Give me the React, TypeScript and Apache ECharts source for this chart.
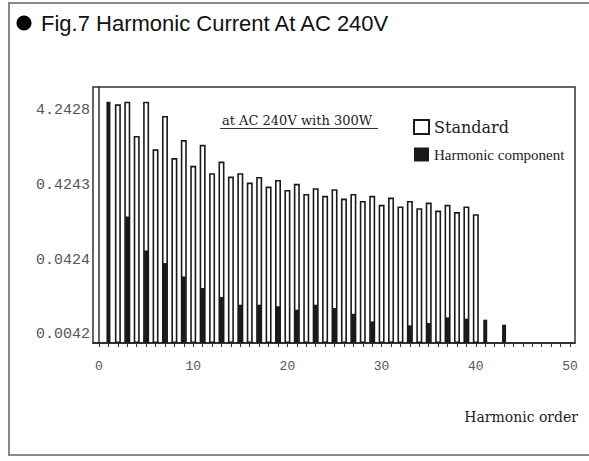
import React, { useEffect, useRef } from "react";
import * as echarts from "echarts";

// Harmonic orders (x axis)
const standardOrders = [2, 3, 4, 5, 6, 7, 8, 9, 10, 11, 12, 13, 14, 15, 16, 17, 18, 19, 20, 21, 22, 23, 24, 25, 26, 27, 28, 29, 30, 31, 32, 33, 34, 35, 36, 37, 38, 39, 40];
const standardValues = [5.22, 5.65, 1.96, 5.65, 1.3, 3.64, 0.99, 1.73, 0.78, 1.49, 0.62, 0.89, 0.56, 0.62, 0.465, 0.554, 0.411, 0.505, 0.371, 0.447, 0.328, 0.391, 0.309, 0.379, 0.284, 0.328, 0.264, 0.309, 0.234, 0.293, 0.222, 0.264, 0.211, 0.251, 0.196, 0.234, 0.187, 0.222, 0.175];

const harmonicOrders = [1, 3, 5, 7, 9, 11, 13, 15, 17, 19, 21, 23, 25, 27, 29, 31, 33, 35, 37, 39, 41, 43];
const harmonicValues = [5.65, 0.163, 0.0571, 0.0387, 0.0256, 0.0179, 0.0136, 0.0107, 0.0107, 0.0102, 0.00918, 0.0107, 0.00965, 0.0081, 0.00639, null, 0.00565, 0.00609, 0.00723, 0.00695, 0.00674, 0.00578];

const yTickValues = [0.0042428, 0.042428, 0.42428, 4.2428];
const xLabelValues = [0, 10, 20, 30, 40, 50];
const xTickValues = [0, 1, 2, 3, 4, 5, 6, 7, 8, 9, 10, 11, 12, 13, 14, 15, 16, 17, 18, 19, 20, 21, 22, 23, 24, 25, 26, 27, 28, 29, 30, 31, 32, 33, 34, 35, 36, 37, 38, 39, 40, 41, 42, 43, 44, 45, 46, 47, 48, 49, 50];

const TITLE = "Fig.7 Harmonic Current At AC 240V";
const NOTE = "at AC 240V with 300W";
const X_NAME = "Harmonic order";
const S1 = "Standard";
const S2 = "Harmonic component";

const Y_MIN = 0.00328;
const Y_MAX = 8.9;

export default function App() {
  const ref = useRef<HTMLDivElement>(null);
  useEffect(() => {
    if (!ref.current) return;
    const chart = echarts.init(ref.current, null, { renderer: "svg" });
    const xCommon = {
      type: "value",
      min: -0.64,
      max: 50.53,
      splitLine: { show: false },
    };
    chart.setOption({
      animation: false,
      backgroundColor: "#fff",
      grid: {
        left: 93,
        right: 14,
        top: 87,
        bottom: 118,
        show: true,
        borderColor: "#333",
        borderWidth: 1.5,
        backgroundColor: "transparent",
      },
      legend: {
        orient: "vertical",
        left: 408,
        top: 114,
        itemWidth: 15,
        itemHeight: 14,
        itemGap: 12,
        icon: "rect",
        selectedMode: false,
        data: [
          { name: S1, textStyle: { fontFamily: "DejaVu Serif", fontSize: 16, color: "#222" } },
          { name: S2, textStyle: { fontFamily: "Liberation Serif", fontSize: 15, color: "#222" } },
        ],
      },
      xAxis: [
        {
          ...xCommon,
          axisLine: { show: true, lineStyle: { color: "#222", width: 1.5 } },
          axisTick: { show: true, length: 4, customValues: xTickValues, lineStyle: { color: "#333", width: 1 } },
          axisLabel: {
            customValues: xLabelValues,
            margin: 17,
            fontFamily: "Liberation Mono",
            fontSize: 13,
            color: "#555",
          },
        },
        {
          ...xCommon,
          show: false,
        },
      ],
      yAxis: {
        type: "log",
        logBase: 10,
        min: Y_MIN,
        max: Y_MAX,
        startValue: Y_MIN,
        splitLine: { show: false },
        axisLine: { show: true, lineStyle: { color: "#333", width: 1.5 } },
        axisTick: { show: false },
        axisLabel: {
          customValues: yTickValues,
          margin: 3,
          fontFamily: "Liberation Mono",
          fontSize: 15,
          color: "#555",
          formatter: (v: number) => Number(v).toFixed(4),
        },
      },
      series: [
        {
          name: S1,
          type: "bar",
          xAxisIndex: 0,
          barWidth: 6,
          itemStyle: { color: "#fff", borderColor: "#1a1a1a", borderWidth: 1.6 },
          data: standardOrders.map((o, i) => [o, standardValues[i]]),
          z: 2,
        },
        {
          name: S2,
          type: "bar",
          xAxisIndex: 1,
          barWidth: 4,
          itemStyle: { color: "#1a1a1a" },
          data: harmonicOrders.map((o, i) => [o, harmonicValues[i]]),
          z: 3,
        },
      ],
      graphic: [
        {
          type: "rect",
          shape: { x: 9, y: 3, width: 600, height: 452 },
          style: { fill: "none", stroke: "#888", lineWidth: 2 },
          silent: true,
        },
        {
          type: "circle",
          shape: { cx: 24, cy: 23, r: 7.5 },
          style: { fill: "#000" },
        },
        {
          type: "text",
          x: 41,
          y: 23,
          style: {
            text: TITLE,
            fontFamily: "Liberation Sans",
            fontSize: 22,
            fill: "#111",
            verticalAlign: "middle",
          },
        },
        {
          type: "text",
          x: 222,
          y: 120,
          style: {
            text: NOTE,
            fontFamily: "DejaVu Serif",
            fontSize: 13,
            fill: "#222",
            verticalAlign: "middle",
          },
        },
        {
          type: "line",
          shape: { x1: 220, y1: 128.5, x2: 378, y2: 128.5 },
          style: { stroke: "#333", lineWidth: 1.2 },
        },
        {
          type: "text",
          x: 578,
          y: 417,
          style: {
            text: X_NAME,
            fontFamily: "DejaVu Serif",
            fontSize: 14,
            fill: "#222",
            align: "right",
            verticalAlign: "middle",
          },
        },
      ],
    });
    return () => chart.dispose();
  }, []);
  return (
    <div
      ref={ref}
      style={{ position: "fixed", left: 0, top: 0, width: 589, height: 461 }}
    />
  );
}
